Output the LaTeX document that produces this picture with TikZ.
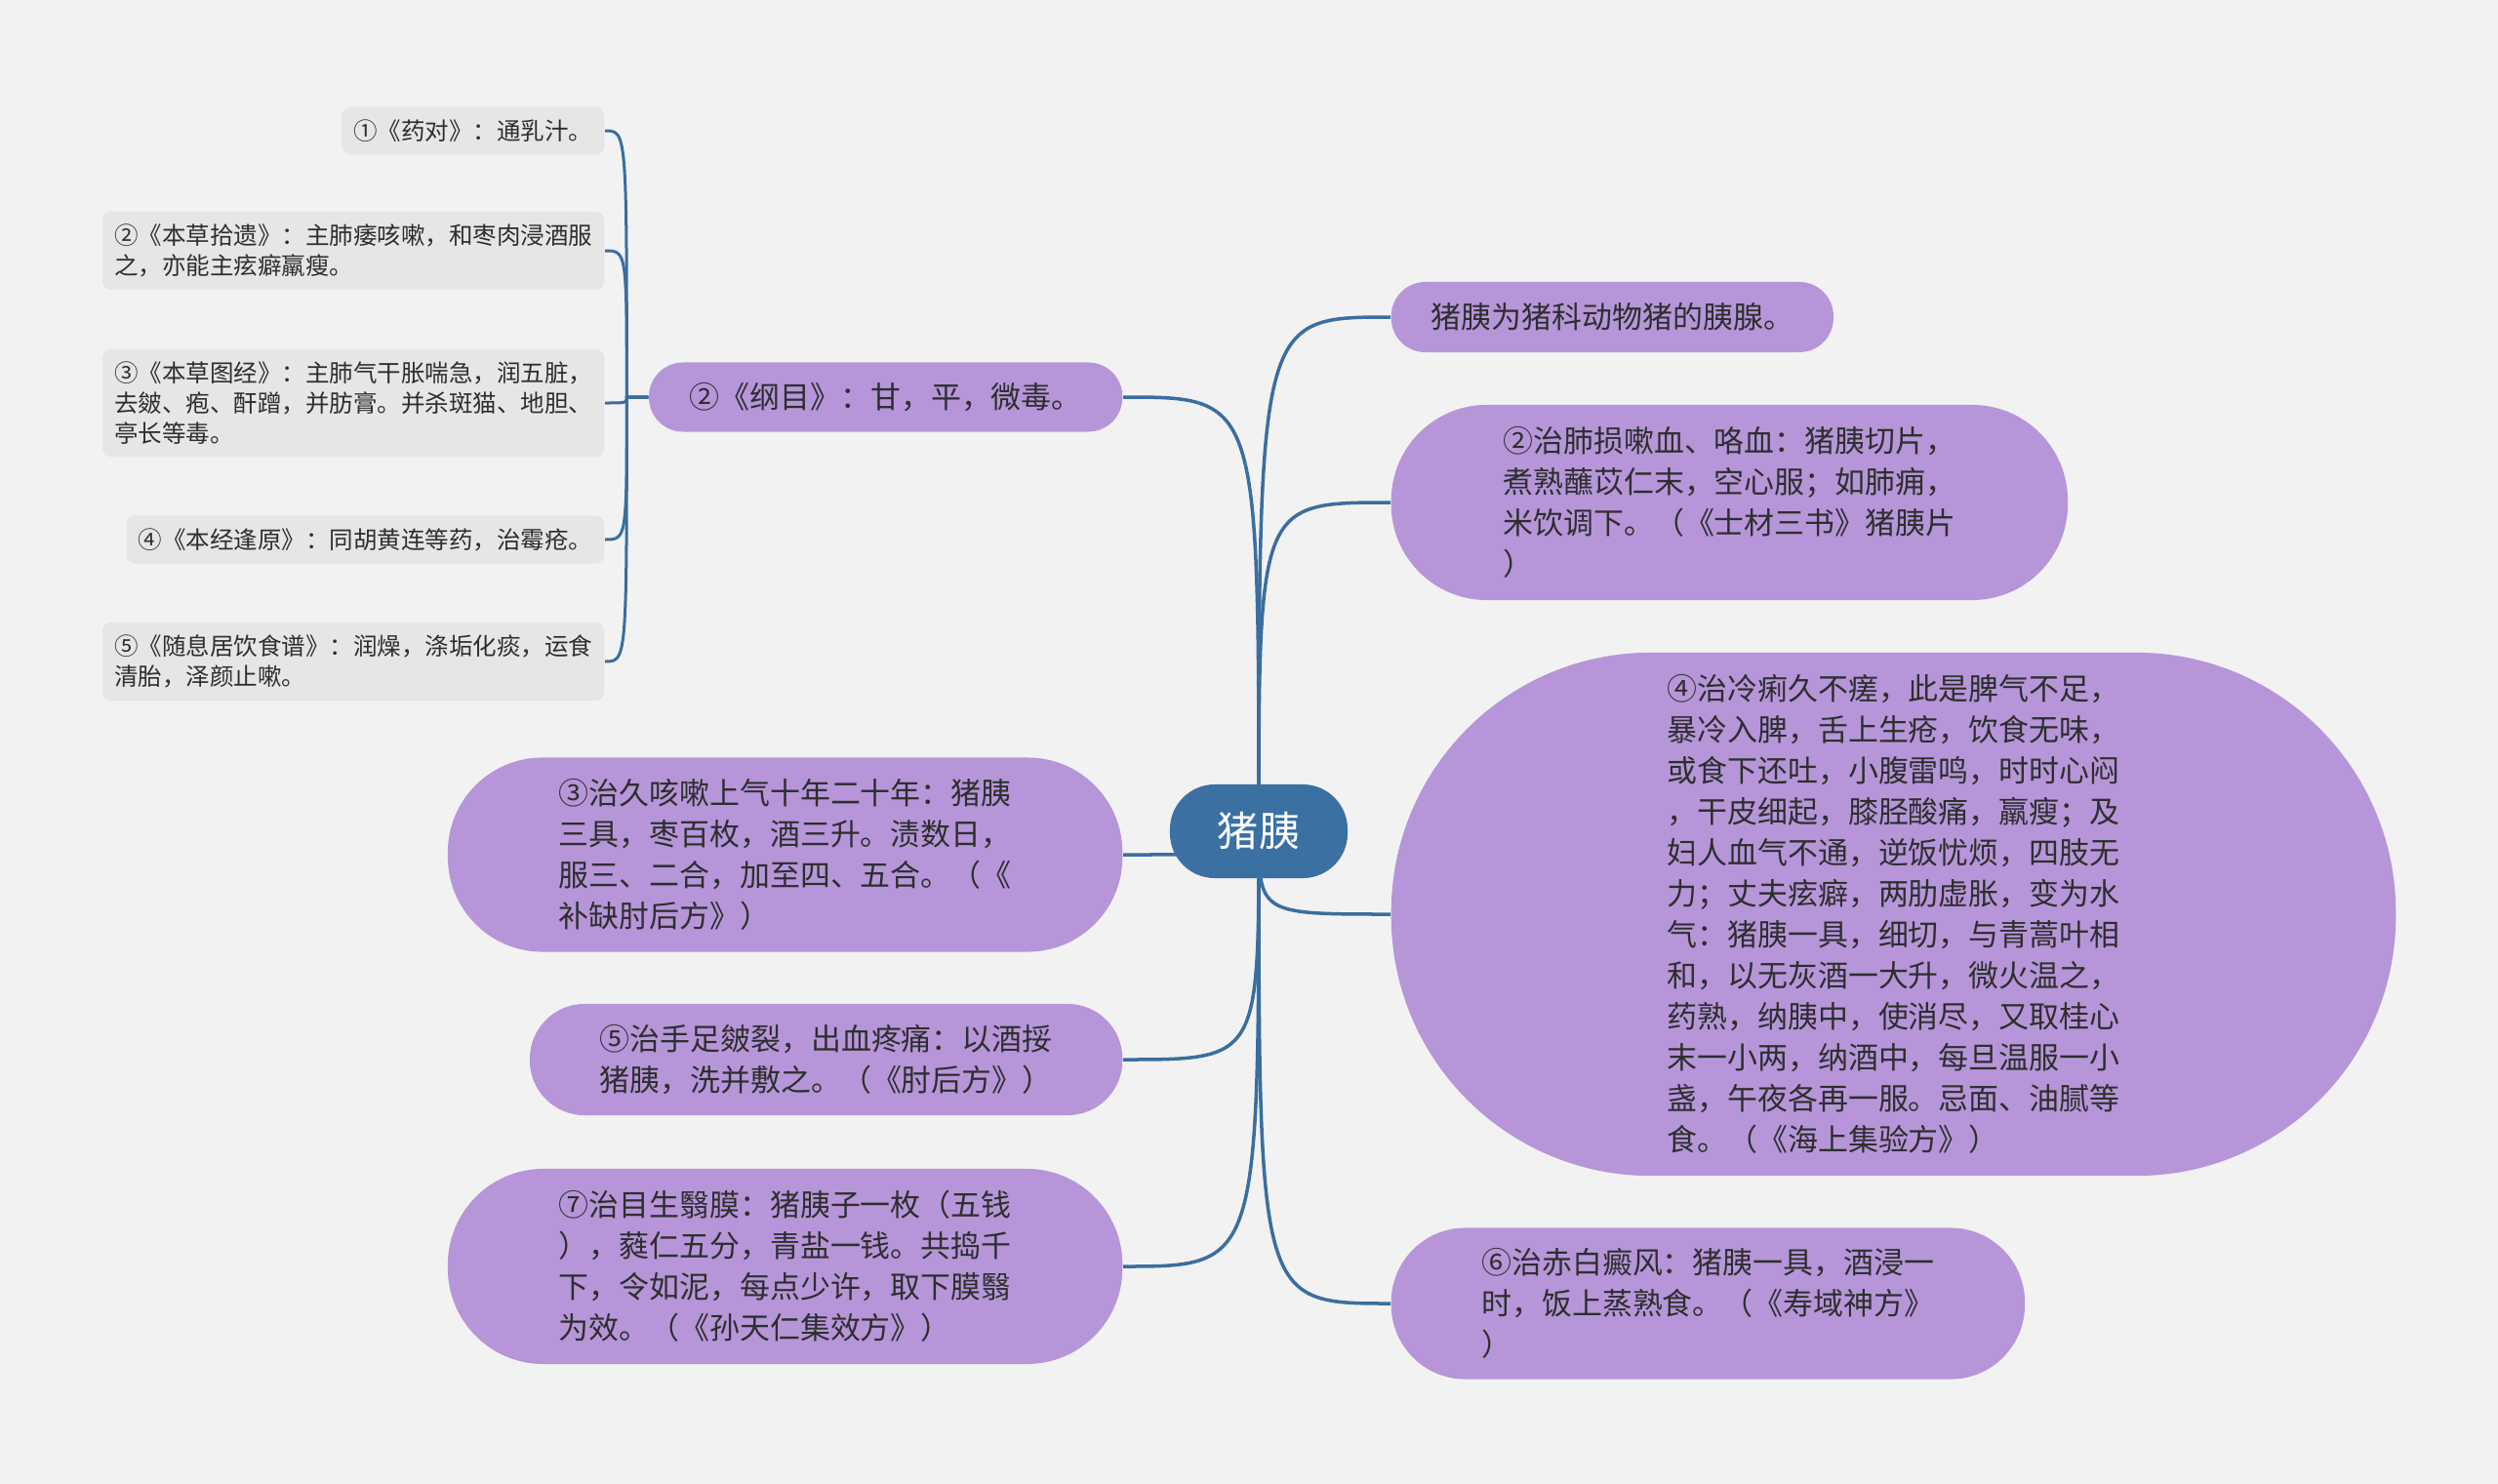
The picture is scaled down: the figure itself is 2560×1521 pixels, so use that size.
\documentclass[tikz,border=0pt]{standalone}
\usepackage{fontspec}
\newfontfamily\cjk{Noto Sans CJK SC}
\usepackage{xcolor}
\definecolor{rootBlue}{HTML}{3B70A3}
\definecolor{lineBlue}{HTML}{3A6E9E}
\definecolor{topicPurple}{HTML}{B696D9}
\definecolor{subGray}{HTML}{E6E6E6}
\definecolor{bgGray}{HTML}{F2F2F2}
\definecolor{darkText}{HTML}{2E2E2E}
\usepackage{tikz}
\usetikzlibrary{
    positioning,
    backgrounds
}
\tikzset{
    % Base style for all nodes
    map base/.style={
        font=\cjk,
        align=left,
        text=darkText,
        rectangle,
    },
    % Central topic - dark blue pill
    root topic/.style={
        map base,
        font=\cjk\fontsize{11.95}{14}\selectfont,
        text=white,
        fill=rootBlue,
        rounded corners=0.46cm,
        minimum width=1.82cm,
        minimum height=0.96cm,
    },
    % Main topics - purple pills, size given per node
    main topic/.style={
        map base,
        font=\cjk\fontsize{8.8}{11.95}\selectfont,
        fill=topicPurple,
        inner sep=0pt,
    },
    % Sub topics - light gray boxes
    sub topic/.style={
        map base,
        font=\cjk\fontsize{6.97}{8.8}\selectfont,
        fill=subGray,
        rounded corners=0.09cm,
        inner xsep=0.12cm,
        inner ysep=0.13cm,
    },
    % Curved branch from the central topic
    branch/.style={
        draw=lineBlue,
        line width=0.035cm,
    },
    % Branch from a main topic to its sub topics
    sub branch/.style={
        draw=lineBlue,
        line width=0.03cm,
    },
}

\begin{document}
\begin{tikzpicture}[x=0.01cm, y=-0.01cm]
    \useasboundingbox (0,0) rectangle (2560,1521);
    \begin{scope}[on background layer]
        \fill [bgGray] (0,0) rectangle (2560,1521);
    \end{scope}

    \node (root) [root topic] at (1290,852) {猪胰};

    \node (yuan_liu) [main topic, anchor=west, minimum width=4.53cm, minimum height=0.72cm, rounded corners=0.35cm] at (1425,325) {猪胰为猪科动物猪的胰腺。};
    \node (fei_sun) [main topic, anchor=west, minimum width=6.93cm, minimum height=2cm, rounded corners=0.98cm] at (1425,515) {②治肺损嗽血、咯血：猪胰切片，\\煮熟蘸苡仁末，空心服；如肺痈，\\米饮调下。（《士材三书》猪胰片\\）};
    \node (leng_li) [main topic, anchor=west, minimum width=10.29cm, minimum height=5.36cm, rounded corners=2.66cm] at (1425,937) {④治冷痢久不瘥，此是脾气不足，\\暴冷入脾，舌上生疮，饮食无味，\\或食下还吐，小腹雷鸣，时时心闷\\，干皮细起，膝胫酸痛，羸瘦；及\\妇人血气不通，逆饭忧烦，四肢无\\力；丈夫痃癖，两肋虚胀，变为水\\气：猪胰一具，细切，与青蒿叶相\\和，以无灰酒一大升，微火温之，\\药熟，纳胰中，使消尽，又取桂心\\末一小两，纳酒中，每旦温服一小\\盏，午夜各再一服。忌面、油腻等\\食。（《海上集验方》）};
    \node (dian_feng) [main topic, anchor=west, minimum width=6.49cm, minimum height=1.55cm, rounded corners=0.76cm] at (1425,1336) {⑥治赤白癜风：猪胰一具，酒浸一\\时，饭上蒸熟食。（《寿域神方》\\）};

    \node (gang_mu) [main topic, anchor=east, minimum width=4.85cm, minimum height=0.71cm, rounded corners=0.35cm] at (1151,407) {②《纲目》：甘，平，微毒。};
    \node (ke_sou) [main topic, anchor=east, minimum width=6.91cm, minimum height=1.99cm, rounded corners=0.97cm] at (1151,876) {③治久咳嗽上气十年二十年：猪胰\\三具，枣百枚，酒三升。渍数日，\\服三、二合，加至四、五合。（《\\补缺肘后方》）};
    \node (jun_lie) [main topic, anchor=east, minimum width=6.07cm, minimum height=1.14cm, rounded corners=0.56cm] at (1151,1086) {⑤治手足皴裂，出血疼痛：以酒挼\\猪胰，洗并敷之。（《肘后方》）};
    \node (yi_mo) [main topic, anchor=east, minimum width=6.91cm, minimum height=2cm, rounded corners=0.98cm] at (1151,1298) {⑦治目生翳膜：猪胰子一枚（五钱\\），蕤仁五分，青盐一钱。共捣千\\下，令如泥，每点少许，取下膜翳\\为效。（《孙天仁集效方》）};

    \node (yao_dui) [sub topic, anchor=east] at (620,134) {①《药对》：通乳汁。};
    \node (shi_yi) [sub topic, anchor=east] at (620,257) {②《本草拾遗》：主肺痿咳嗽，和枣肉浸酒服\\之，亦能主痃癖羸瘦。};
    \node (tu_jing) [sub topic, anchor=east] at (620,413) {③《本草图经》：主肺气干胀喘急，润五脏，\\去皴、疱、酐蹭，并肪膏。并杀斑猫、地胆、\\亭长等毒。};
    \node (feng_yuan) [sub topic, anchor=east] at (620,553) {④《本经逢原》：同胡黄连等药，治霉疮。};
    \node (yin_shi) [sub topic, anchor=east] at (620,678) {⑤《随息居饮食谱》：润燥，涤垢化痰，运食\\清胎，泽颜止嗽。};

    \coordinate [left=0.22cm of gang_mu.west] (trunk);

    \begin{scope}[on background layer]
        \draw [branch] (root.center) .. controls (root.center |- yuan_liu.west) .. (yuan_liu.west);
        \draw [branch] (root.center) .. controls (root.center |- fei_sun.west) .. (fei_sun.west);
        \draw [branch] (root.center) .. controls (root.center |- leng_li.west) .. (leng_li.west);
        \draw [branch] (root.center) .. controls (root.center |- dian_feng.west) .. (dian_feng.west);
        \draw [branch] (root.center) .. controls (root.center |- gang_mu.east) .. (gang_mu.east);
        \draw [branch] (root.center) .. controls (root.center |- ke_sou.east) .. (ke_sou.east);
        \draw [branch] (root.center) .. controls (root.center |- jun_lie.east) .. (jun_lie.east);
        \draw [branch] (root.center) .. controls (root.center |- yi_mo.east) .. (yi_mo.east);

        \draw [sub branch] (gang_mu.west) -- (trunk) .. controls (trunk |- yao_dui.east) .. (yao_dui.east);
        \draw [sub branch] (gang_mu.west) -- (trunk) .. controls (trunk |- shi_yi.east) .. (shi_yi.east);
        \draw [sub branch] (gang_mu.west) -- (trunk) .. controls (trunk |- tu_jing.east) .. (tu_jing.east);
        \draw [sub branch] (gang_mu.west) -- (trunk) .. controls (trunk |- feng_yuan.east) .. (feng_yuan.east);
        \draw [sub branch] (gang_mu.west) -- (trunk) .. controls (trunk |- yin_shi.east) .. (yin_shi.east);
    \end{scope}
\end{tikzpicture}
\end{document}
